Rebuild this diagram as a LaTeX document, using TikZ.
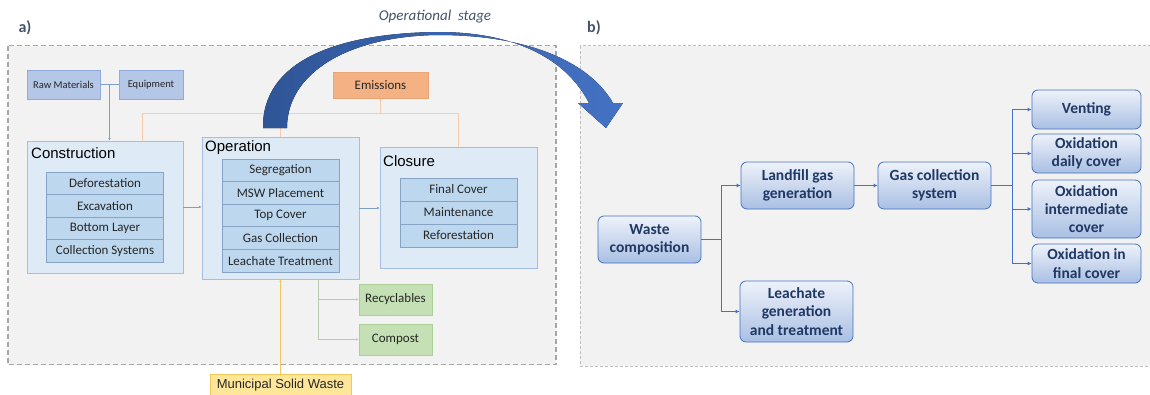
\documentclass[tikz,border=0pt]{standalone}
\usepackage{fontspec}
\setmainfont{Carlito}
\newfontfamily\arialf{Liberation Sans}
\usetikzlibrary{arrows.meta,calc}
\definecolor{panelfill}{HTML}{F2F2F2}
\definecolor{paneldash}{HTML}{A6A6A6}
\definecolor{paneldashb}{HTML}{BFBFBF}
\definecolor{stagefill}{HTML}{DEEBF7}
\definecolor{stagedraw}{HTML}{A4BFDF}
\definecolor{rowfill}{HTML}{BDD7EE}
\definecolor{rowdraw}{HTML}{87A3C6}
\definecolor{inputfill}{HTML}{B4C7E7}
\definecolor{inputdraw}{HTML}{8FAADC}
\definecolor{emisfill}{HTML}{F4B183}
\definecolor{emisdraw}{HTML}{E9A577}
\definecolor{emisline}{HTML}{F8CBAD}
\definecolor{greenfill}{HTML}{C5E0B4}
\definecolor{greendraw}{HTML}{A9CF94}
\definecolor{greenline}{HTML}{BCC8B4}
\definecolor{mswfill}{HTML}{FFE699}
\definecolor{mswdraw}{HTML}{F2C75C}
\definecolor{mswline}{HTML}{F2C75C}
\definecolor{leftline}{HTML}{7F9FC8}
\definecolor{textdark}{HTML}{262626}
\definecolor{labelcol}{HTML}{44546A}
\definecolor{navy}{HTML}{1F3864}
\definecolor{bluedraw}{HTML}{4472C4}
\definecolor{rtop}{HTML}{EEF2FA}
\definecolor{rbottom}{HTML}{A9BFE3}
\definecolor{arrowdark}{HTML}{2F5597}
\definecolor{arrowlight}{HTML}{4472C4}
\tikzset{
  stagebox/.style={draw=stagedraw, fill=stagefill, line width=0.8pt, inner sep=0pt},
  rowbox/.style={draw=rowdraw, fill=rowfill, line width=0.8pt, inner sep=0pt,
    minimum width=117pt, text=textdark, font=\fontsize{13}{15}\selectfont},
  stagetitle/.style={anchor=west, inner sep=0pt, text=black, font=\arialf\fontsize{15}{17}\selectfont},
  inputbox/.style={draw=inputdraw, fill=inputfill, line width=0.8pt, inner sep=0pt,
    minimum height=29pt, text=textdark, font=\fontsize{10.5}{12}\selectfont},
  emisbox/.style={draw=emisdraw, fill=emisfill, line width=0.8pt, inner sep=0pt,
    text=textdark, font=\fontsize{13}{15}\selectfont},
  greenbox/.style={draw=greendraw, fill=greenfill, line width=0.8pt, inner sep=0pt,
    minimum width=73pt, minimum height=31pt, text=textdark, font=\fontsize{13}{15}\selectfont},
  mswbox/.style={draw=mswdraw, fill=mswfill, line width=0.8pt, inner sep=0pt,
    text=textdark, font=\arialf\fontsize{13}{15}\selectfont},
  rbox/.style={draw=bluedraw, top color=rtop, bottom color=rbottom, rounded corners=6pt,
    line width=0.8pt, inner sep=0pt, align=center, text=navy,
    font=\bfseries\fontsize{15.5}{18.3}\selectfont},
  lconn/.style={draw=leftline, line width=0.6pt, -{Latex[length=2.5pt,width=2.5pt]}},
  rconn/.style={draw=bluedraw, line width=0.8pt, -{Latex[length=4pt,width=4pt]}},
}
\begin{document}
\begin{tikzpicture}[x=1pt,y=-1pt]
\useasboundingbox (0,0) rectangle (1150,394);
% panels
\draw[draw=paneldash, fill=panelfill, line width=1.2pt, dash pattern=on 5pt off 3pt] (8,45.5) rectangle (556,364.5);
\draw[draw=paneldashb, fill=panelfill, line width=0.8pt, dash pattern=on 3pt off 2pt] (580,45.5) rectangle (1160,366);
\node[anchor=center, text=labelcol, font=\bfseries\fontsize{16}{18}\selectfont] (la) at (25,28) {a)};
\node[anchor=center, text=labelcol, font=\bfseries\fontsize{16}{18}\selectfont] (lb) at (594,28) {b)};
\node[anchor=center, text=labelcol, font=\itshape\fontsize{15}{17}\selectfont] (ost) at (435,17) {Operational\ \ stage};

% inputs
\node[inputbox, minimum width=73pt] (raw) at (63.5,84.5) {Raw Materials};
\node[inputbox, minimum width=64pt] (eq) at (151,84.5) {Equipment};
\node[emisbox, minimum width=95pt, minimum height=26pt] (emis) at (380.5,85) {Emissions};

% stages
\node[stagebox, minimum width=156pt, minimum height=132pt] (con) at (105,207) {};
\node[stagetitle] (cont) at (31,153) {Construction};
\node[rowbox, minimum height=22.5pt] (c1) at (105,183.25) {Deforestation};
\node[rowbox, minimum height=22.5pt] (c2) at (105,205.75) {Excavation};
\node[rowbox, minimum height=22.5pt] (c3) at (105,228.25) {Bottom Layer};
\node[rowbox, minimum height=22.5pt] (c4) at (105,250.75) {Collection Systems};

\node[stagebox, minimum width=157pt, minimum height=142pt] (op) at (280.5,208) {};
\node[stagetitle] (opt) at (205,148) {Operation};
\node[rowbox, minimum height=22.6pt] (o1) at (280.5,170.3) {Segregation};
\node[rowbox, minimum height=22.6pt] (o2) at (280.5,192.9) {MSW Placement};
\node[rowbox, minimum height=22.6pt] (o3) at (280.5,215.5) {Top Cover};
\node[rowbox, minimum height=22.6pt] (o4) at (280.5,238.1) {Gas Collection};
\node[rowbox, minimum height=22.6pt] (o5) at (280.5,260.7) {Leachate Treatment};

\node[stagebox, minimum width=157pt, minimum height=121pt] (clo) at (458.5,207.5) {};
\node[stagetitle] (clot) at (383,161) {Closure};
\node[rowbox, minimum height=23pt] (k1) at (458.5,189.5) {Final Cover};
\node[rowbox, minimum height=23pt] (k2) at (458.5,212.5) {Maintenance};
\node[rowbox, minimum height=23pt] (k3) at (458.5,235.5) {Reforestation};

\node[greenbox] (rec) at (395.5,299.5) {Recyclables};
\node[greenbox] (comp) at (395.5,339.5) {Compost};
\node[mswbox, minimum width=141pt, minimum height=22pt] (msw) at (280.5,385) {Municipal Solid Waste};

% left connectors
\draw[leftline, line width=0.6pt] (raw.east) -- (eq.west);
\coordinate (rj) at ($(raw.east)!0.5!(eq.west)$);
\draw[lconn] (rj) -- (rj |- con.north);
\draw[lconn] (con.east) -- (con.east -| op.west);
\draw[lconn] (op.east) -- (op.east -| clo.west);

\coordinate (eb1) at (142,113);
\coordinate (eb2) at (clo.north |- eb1);
\draw[emisline, line width=0.8pt] (eb1 |- con.north) -- (eb1) -- (eb2) -- (clo.north);
\draw[emisline, line width=0.8pt] (op.north |- eb1) -- (op.north);
\draw[draw=emisline, line width=0.8pt, -{Latex[length=2.5pt,width=2.5pt,fill=emisdraw]}] (emis.south |- eb1) -- (emis.south);

\coordinate (gj) at (318,0);
\draw[draw=greenline, line width=0.8pt] (gj |- op.south) -- (gj |- comp.west);
\draw[draw=greenline, line width=0.8pt, -{Latex[length=2.5pt,width=2.5pt,fill=greendraw]}] (gj |- rec.west) -- (rec.west);
\draw[draw=greenline, line width=0.8pt, -{Latex[length=2.5pt,width=2.5pt,fill=greendraw]}] (gj |- comp.west) -- (comp.west);
\draw[draw=mswline, line width=0.7pt, -{Latex[length=2.5pt,width=2.5pt]}] (msw.north) -- (msw.north |- op.south);

% right panel
\node[rbox, minimum width=103pt, minimum height=47pt] (waste) at (649.5,239.5) {Waste\\composition};
\node[rbox, minimum width=113pt, minimum height=47pt] (lfg) at (797.5,185.5) {Landfill gas\\generation};
\node[rbox, minimum width=113pt, minimum height=61pt] (lea) at (796.5,311.5) {Leachate\\generation\\and treatment};
\node[rbox, minimum width=113pt, minimum height=47pt] (gas) at (934.5,185.5) {Gas collection\\system};
\node[rbox, minimum width=109pt, minimum height=39pt] (vent) at (1086.5,109.5) {Venting};
\node[rbox, minimum width=109pt, minimum height=39pt] (daily) at (1086.5,153.5) {Oxidation\\daily cover};
\node[rbox, minimum width=109pt, minimum height=58pt] (inter) at (1086.5,209) {Oxidation\\intermediate\\cover};
\node[rbox, minimum width=109pt, minimum height=39pt] (fin) at (1086.5,263.5) {Oxidation in\\final cover};

\draw[rconn] (waste.east) -- ++(20,0) |- (lfg.west);
\draw[rconn] (waste.east) -- ++(20,0) |- (lea.west);
\draw[rconn] (lfg.east) -- (gas.west);
\draw[rconn] (gas.east) -- ++(21,0) |- (vent.west);
\draw[rconn] (gas.east) -- ++(21,0) |- (daily.west);
\draw[rconn] (gas.east) -- ++(21,0) |- (inter.west);
\draw[rconn] (gas.east) -- ++(21,0) |- (fin.west);

% big curved arrow
\fill[left color=arrowdark, right color=arrowlight]
  (263,128) .. controls (262,62) and (335,33) .. (438,32)
  .. controls (520,32) and (568,62) .. (589,103)
  -- (578,103) -- (606,128) -- (623,103) -- (613,103)
  .. controls (588,60) and (525,35) .. (438,35)
  .. controls (350,36) and (287,72) .. (287,128) -- cycle;
\end{tikzpicture}
\end{document}
